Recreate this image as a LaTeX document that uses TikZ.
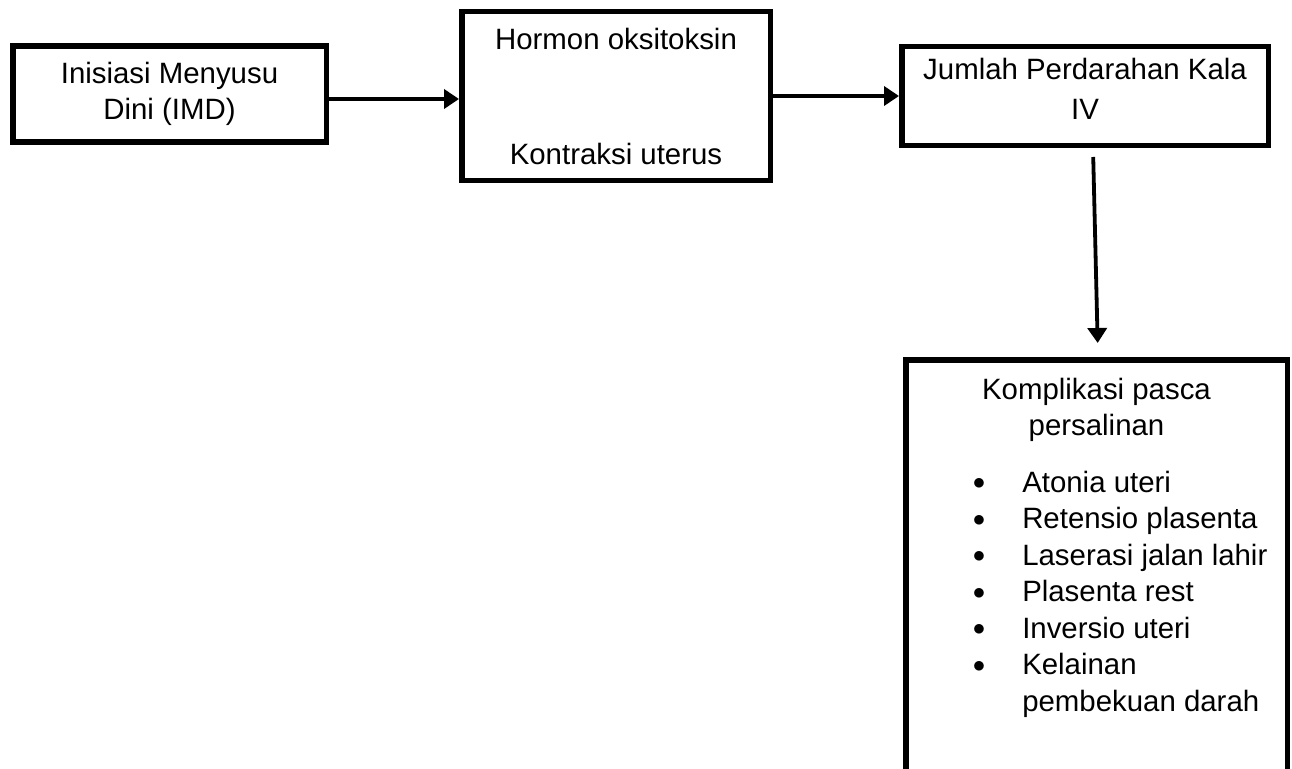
\documentclass[tikz,border=0pt]{standalone}
\usepackage{fontspec}
\setmainfont{Liberation Sans}
\usepackage{tikz}
\usetikzlibrary{arrows.meta}

\tikzset{
  kotak/.style={draw, line width=5.5pt, inner sep=0pt, align=center, font=\fontsize{29.4}{36}\selectfont},
  panah/.style={line width=3.8pt, -{Triangle[length=15pt, width=19pt]}}
}
\newcommand{\butir}[1]{\noindent\makebox[116.5pt][l]{\hspace*{67pt}\raisebox{2.5pt}{$\bullet$}}#1\par}

\begin{document}
\begin{tikzpicture}[x=1pt, y=-1pt]
  \useasboundingbox[fill=white] (0,0) rectangle (1292,768);

  % kotak baris atas
  \node[kotak, minimum width=313.5pt, minimum height=95.5pt] (imd) at (169.5,94) {Inisiasi Menyusu\\Dini (IMD)};
  \node[kotak, minimum width=308.5pt, minimum height=168.5pt] (oksitoksin) at (616,96) {Hormon oksitoksin\\[79pt]Kontraksi uterus};
  \node[kotak] (perdarahan) at (1085,96) {\parbox[c][98.5pt][t]{366.5pt}{\centering\fontsize{29.4}{40}\selectfont
      \vspace*{11pt}Jumlah Perdarahan Kala\\IV}};

  % kotak komplikasi (bagian bawah terpotong)
  \node[kotak, anchor=north] (komplikasi) at (1096.5,357) {\parbox[c][440pt][t]{381.5pt}{%
      \fontsize{29.4}{36.5}\selectfont
      \vspace*{18pt}
      {\centering Komplikasi pasca\\persalinan\par}
      \vspace{20pt}
      \butir{Atonia uteri}
      \butir{Retensio plasenta}
      \butir{Laserasi jalan lahir}
      \butir{Plasenta rest}
      \butir{Inversio uteri}
      \butir{Kelainan}
      \noindent\hspace*{116.5pt}pembekuan darah\par}};

  % panah
  \draw[panah] ([yshift=-5pt]imd.east) -- ([yshift=-5pt]imd.east -| oksitoksin.west);
  \draw[panah] (oksitoksin.east) -- (perdarahan.west);
  \draw[panah, shorten <=9pt, shorten >=14pt] ([xshift=8pt]perdarahan.south) -- ([xshift=1.5pt]komplikasi.north);
\end{tikzpicture}
\end{document}
